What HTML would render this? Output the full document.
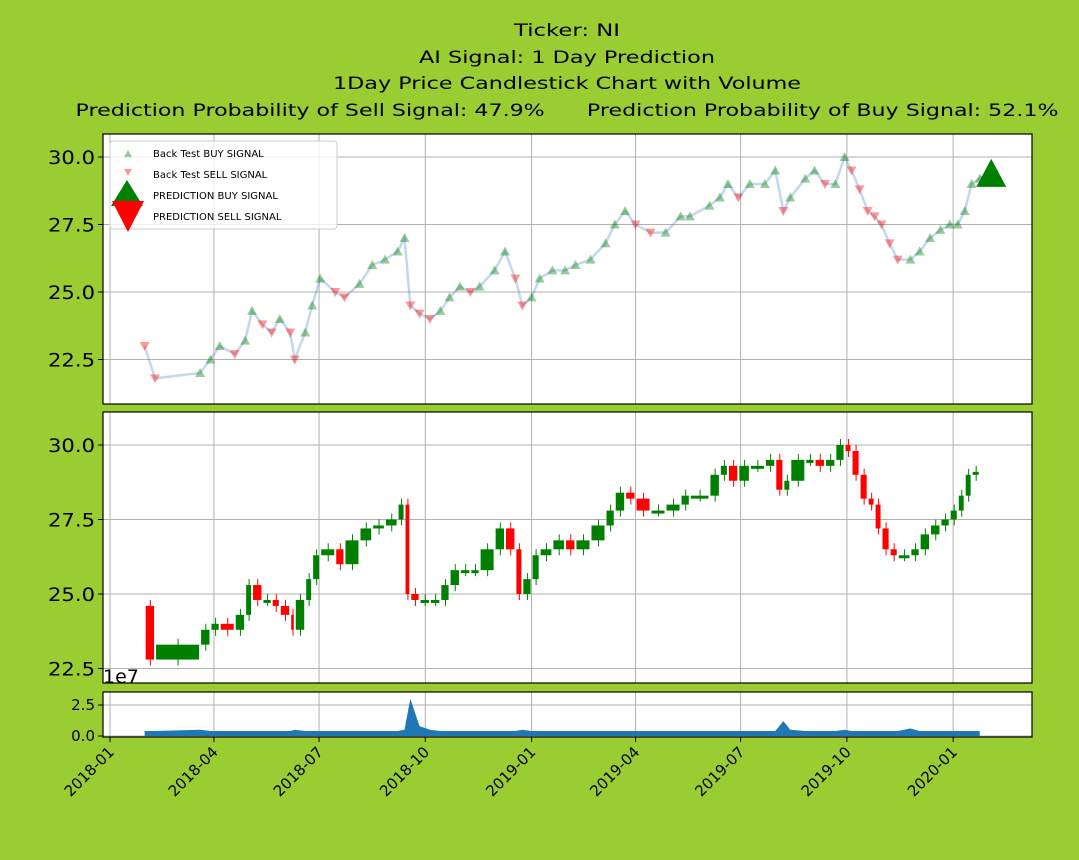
<!DOCTYPE html>
<html><head><meta charset="utf-8"><style>
html,body{margin:0;padding:0;background:#9acd32;}
svg{display:block;font-family:"DejaVu Sans","Liberation Sans",sans-serif;}
</style></head><body>
<svg id="c" width="1079" height="860" xmlns="http://www.w3.org/2000/svg">
<rect width="1079" height="860" fill="#9acd32"/>
<g font-size="17" text-anchor="middle" fill="#000" style="white-space:pre">
<text x="567" y="36" textLength="106" lengthAdjust="spacingAndGlyphs">Ticker: NI</text>
<text x="567" y="63" textLength="296" lengthAdjust="spacingAndGlyphs">AI Signal: 1 Day Prediction</text>
<text x="567" y="89" textLength="468" lengthAdjust="spacingAndGlyphs">1Day Price Candlestick Chart with Volume</text>
<text x="567" y="116" xml:space="preserve" textLength="983" lengthAdjust="spacingAndGlyphs">Prediction Probability of Sell Signal: 47.9%      Prediction Probability of Buy Signal: 52.1%</text>
</g>
<rect x="103" y="134" width="929" height="270" fill="#fff"/>
<rect x="103" y="412" width="929" height="271" fill="#fff"/>
<rect x="103" y="692" width="929" height="45" fill="#fff"/>
<g id="grid"></g>
<g id="marks"></g>
<g id="frames" fill="none" stroke="#000" stroke-width="1.2">
<rect x="103" y="134" width="929" height="270"/>
<rect x="103" y="412" width="929" height="271"/>
<rect x="103" y="692" width="929" height="45"/>
</g>
<g id="ticks"></g>
<text x="103" y="683" font-size="19">1e7</text>
<g>
<rect x="110" y="141" width="227" height="88" rx="3" fill="#fff" fill-opacity="0.8" stroke="#ccc"/>
<polygon points="128,150 132,157 124,157" fill="green" fill-opacity="0.4"/>
<polygon points="124,169 132,169 128,176" fill="red" fill-opacity="0.4"/>
<polygon points="127,180 143,206 111,206" fill="green"/>
<polygon points="112,201 144,201 128,232" fill="red"/>
<g font-size="10" fill="#000">
<text x="153" y="157">Back Test BUY SIGNAL</text>
<text x="153" y="178">Back Test SELL SIGNAL</text>
<text x="153" y="199">PREDICTION BUY SIGNAL</text>
<text x="153" y="220">PREDICTION SELL SIGNAL</text>
</g></g>
</svg>
<script>
const days=[30,39,78,87,95,108,117,123,132,140,147,156,160,169,175,182,195,203,216,227,238,249,255,260,268,277,286,294,303,312,320,333,342,351,357,365,372,383,394,403,416,429,437,446,455,468,481,494,502,519,528,535,544,554,567,576,583,589,602,610,619,628,636,642,649,656,662,668,675,682,693,701,710,719,727,734,740,746,753];
const signalClose=[23.0,21.8,22.0,22.5,23.0,22.7,23.2,24.3,23.8,23.5,24.0,23.5,22.5,23.5,24.5,25.5,25.0,24.8,25.3,26.0,26.2,26.5,27.0,24.5,24.2,24.0,24.3,24.8,25.2,25.0,25.2,25.8,26.5,25.5,24.5,24.8,25.5,25.8,25.8,26.0,26.2,26.8,27.5,28.0,27.5,27.2,27.2,27.8,27.8,28.2,28.5,29.0,28.5,29.0,29.0,29.5,28.0,28.5,29.2,29.5,29.0,29.0,30.0,29.5,28.8,28.0,27.8,27.5,26.8,26.2,26.2,26.5,27.0,27.3,27.5,27.5,28.0,29.0,29.2];
const candleClose=[24.6,22.8,23.3,23.8,24.0,23.8,24.3,25.3,24.8,24.8,24.6,24.3,23.8,24.8,25.5,26.3,26.5,26.0,26.8,27.2,27.3,27.5,28.0,25.0,24.8,24.8,24.8,25.3,25.8,25.8,25.8,26.5,27.2,26.5,25.0,25.5,26.3,26.5,26.8,26.5,26.8,27.3,27.8,28.4,28.2,27.8,27.8,28.0,28.3,28.3,29.0,29.3,28.8,29.3,29.3,29.5,28.5,28.8,29.5,29.5,29.3,29.5,30.0,29.8,29.0,28.2,28.0,27.2,26.5,26.3,26.3,26.5,27.0,27.3,27.5,27.8,28.3,29.0,29.1];
const volume=[0.4,0.4,0.5,0.4,0.4,0.4,0.4,0.4,0.4,0.4,0.4,0.4,0.5,0.4,0.4,0.4,0.4,0.4,0.4,0.4,0.4,0.4,0.5,3.0,0.8,0.5,0.4,0.4,0.4,0.4,0.4,0.4,0.4,0.4,0.5,0.4,0.4,0.4,0.4,0.4,0.4,0.4,0.4,0.4,0.4,0.4,0.4,0.4,0.4,0.4,0.4,0.4,0.4,0.4,0.4,0.4,1.2,0.5,0.4,0.4,0.4,0.4,0.5,0.4,0.4,0.4,0.4,0.4,0.4,0.4,0.6,0.4,0.4,0.4,0.4,0.4,0.4,0.4,0.4];
const xTickLabels=["2018-01","2018-04","2018-07","2018-10","2019-01","2019-04","2019-07","2019-10","2020-01"];
const xTickDays=[0,90,181,273,365,455,546,638,730];
const priceTicks=[22.5,25.0,27.5,30.0];
const volTicks=[0.0,2.5];
const predictionDay=763, predictionValue=29.3;

const NS="http://www.w3.org/2000/svg";
const X=d=>110+d*1.155;
const Y1=v=>157+(30-v)*27;
const Y2=v=>445+(30-v)*29.8;
const Y3=v=>736-v*12.4;
function mk(p,t,a){const e=document.createElementNS(NS,t);for(const k in a)e.setAttribute(k,a[k]);p.appendChild(e);return e;}
const grid=document.getElementById('grid'),marks=document.getElementById('marks'),ticks=document.getElementById('ticks');
xTickDays.forEach((d,i)=>{
  const x=X(d);
  [[134,404],[412,683],[692,737]].forEach(r=>{const g=mk(grid,'line',{x1:x,x2:x,y1:r[0],y2:r[1],stroke:'#b0b0b0','stroke-width':1});
    
    });
  const t=mk(ticks,'line',{x1:x,x2:x,y1:737,y2:742,stroke:'#000'});
  
  
  const l=mk(ticks,'text',{x:x+5,y:753,'font-size':15,'text-anchor':'end',transform:`rotate(-45 ${x+5} 753)`});
  l.textContent=xTickLabels[i];
  
  
});
priceTicks.forEach(v=>{
  [[Y1,'signal'],[Y2,'candle']].forEach(([f,n])=>{
    const y=f(v);
    const g=mk(grid,'line',{x1:103,x2:1032,y1:y,y2:y,stroke:'#b0b0b0'});
    
    
    mk(ticks,'line',{x1:98,x2:103,y1:y,y2:y,stroke:'#000'});
    const l=mk(ticks,'text',{x:95,y:y+7,'font-size':19,'text-anchor':'end',textLength:47,lengthAdjust:'spacingAndGlyphs'});
    l.textContent=v.toFixed(1);
    
    
  });
});
volTicks.forEach(v=>{
  const y=Y3(v);
  const g=mk(grid,'line',{x1:103,x2:1032,y1:y,y2:y,stroke:'#b0b0b0'});
  
  
  mk(ticks,'line',{x1:98,x2:103,y1:y,y2:y,stroke:'#000'});
  const l=mk(ticks,'text',{x:95,y:y+5,'font-size':15,'text-anchor':'end'});
  l.textContent=v.toFixed(1);
  
  
});
const pl=mk(marks,'polyline',{points:days.map((d,i)=>X(d)+','+Y1(signalClose[i])).join(' ')+' '+X(predictionDay-8)+','+Y1(predictionValue),fill:'none',stroke:'#4f8fd0','stroke-opacity':0.35,'stroke-width':2.5});


days.forEach((d,i)=>{
  const x=X(d),y=Y1(signalClose[i]);
  const up=i===0?false:signalClose[i]>=signalClose[i-1];
  const m=mk(marks,'polygon',{points:up?`${x},${y-5} ${x+5},${y+4} ${x-5},${y+4}`:`${x-5},${y-4} ${x+5},${y-4} ${x},${y+5}`,fill:up?'green':'red','fill-opacity':0.4});
  
  
});
{const x=X(predictionDay),y=Y1(predictionValue);
 const p=mk(marks,'polygon',{points:`${x},${y-17} ${x+15},${y+11} ${x-15},${y+11}`,fill:'green'});
 
 }
days.forEach((d,i)=>{
  if(i===0)return;
  const o=candleClose[i-1],c=candleClose[i];
  const x0=X(days[i-1])+1,x1=X(d);
  const top=Y2(Math.max(o,c)),bot=Y2(Math.min(o,c));
  const col=c>=o?'green':'red';
  const w=mk(marks,'line',{x1:(x0+x1)/2,x2:(x0+x1)/2,y1:top-6,y2:bot+6,stroke:col,'stroke-width':1});
  
  
  const r=mk(marks,'rect',{x:x0,y:top,width:Math.max(2,x1-x0-1),height:Math.max(3,bot-top),fill:col});
  
  
});
const vp=mk(marks,'polygon',{points:`${X(days[0])},${Y3(0)} `+days.map((d,i)=>X(d)+','+Y3(volume[i])).join(' ')+` ${X(days[days.length-1])},${Y3(0)}`,fill:'#1f77b4'});


</script>
</body></html>
